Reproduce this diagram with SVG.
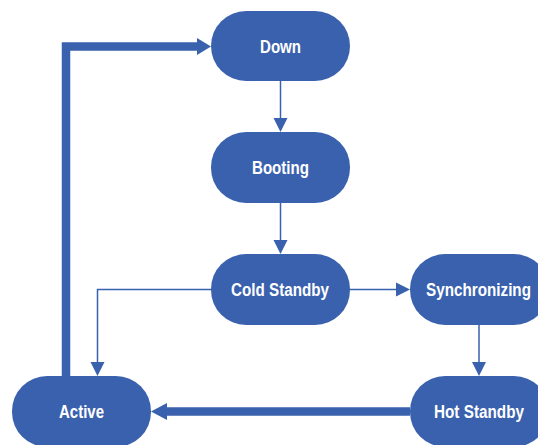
<svg xmlns="http://www.w3.org/2000/svg" width="538" height="445" viewBox="0 0 538 445">
<defs>
<style>
.node{fill:#3A61AE;}
.lbl{fill:#ffffff;font-family:"Liberation Sans Narrow","Liberation Sans",Arial,sans-serif;font-weight:bold;font-size:18px;text-anchor:middle;dominant-baseline:central;}
.thin{fill:none;stroke:#3A61AE;stroke-width:1.5;}
.thick{fill:none;stroke:#3A61AE;stroke-width:8.5;}
.head{fill:#3A61AE;}
</style>
</defs>
<rect width="538" height="445" fill="#ffffff"/>
<g id="connectors">
<path class="thin" d="M280.5,81 V120"/>
<polygon class="head" points="273.5,118 287.5,118 280.5,132"/>
<path class="thin" d="M280.5,203 V242"/>
<polygon class="head" points="273.5,240 287.5,240 280.5,254"/>
<path class="thin" d="M350,289.5 H398"/>
<polygon class="head" points="396,282.5 396,296.5 410,289.5"/>
<path class="thin" d="M211,289.5 H97.5 V364"/>
<polygon class="head" points="90.5,362 104.5,362 97.5,376"/>
<path class="thin" d="M479,325 V364"/>
<polygon class="head" points="472,362 486,362 479,376"/>
<path class="thick" d="M410,411.5 H164"/>
<polygon class="head" points="167,403 167,420 151,411.5"/>
<path class="thick" d="M66,376 V46.5 H199"/>
<polygon class="head" points="197,38 197,55 211,46.5"/>
</g>
<g id="down"><rect class="node" x="211" y="11" width="139" height="70" rx="35" ry="35"/><text class="lbl" x="280.5" y="46.5" textLength="41" lengthAdjust="spacingAndGlyphs">Down</text></g>
<g id="booting"><rect class="node" x="211" y="132" width="139" height="71" rx="35" ry="35"/><text class="lbl" x="280.5" y="168" textLength="57" lengthAdjust="spacingAndGlyphs">Booting</text></g>
<g id="cold-standby"><rect class="node" x="211" y="254" width="139" height="71" rx="35" ry="35"/><text class="lbl" x="280" y="290" textLength="98" lengthAdjust="spacingAndGlyphs">Cold Standby</text></g>
<g id="synchronizing"><rect class="node" x="410" y="254" width="139" height="71" rx="35" ry="35"/><text class="lbl" x="478.5" y="290" textLength="105" lengthAdjust="spacingAndGlyphs">Synchronizing</text></g>
<g id="hot-standby"><rect class="node" x="410" y="376" width="139" height="71" rx="35" ry="35"/><text class="lbl" x="479" y="412" textLength="90" lengthAdjust="spacingAndGlyphs">Hot Standby</text></g>
<g id="active"><rect class="node" x="12" y="376" width="139" height="71" rx="35" ry="35"/><text class="lbl" x="81.5" y="412" textLength="45" lengthAdjust="spacingAndGlyphs">Active</text></g>
</svg>
